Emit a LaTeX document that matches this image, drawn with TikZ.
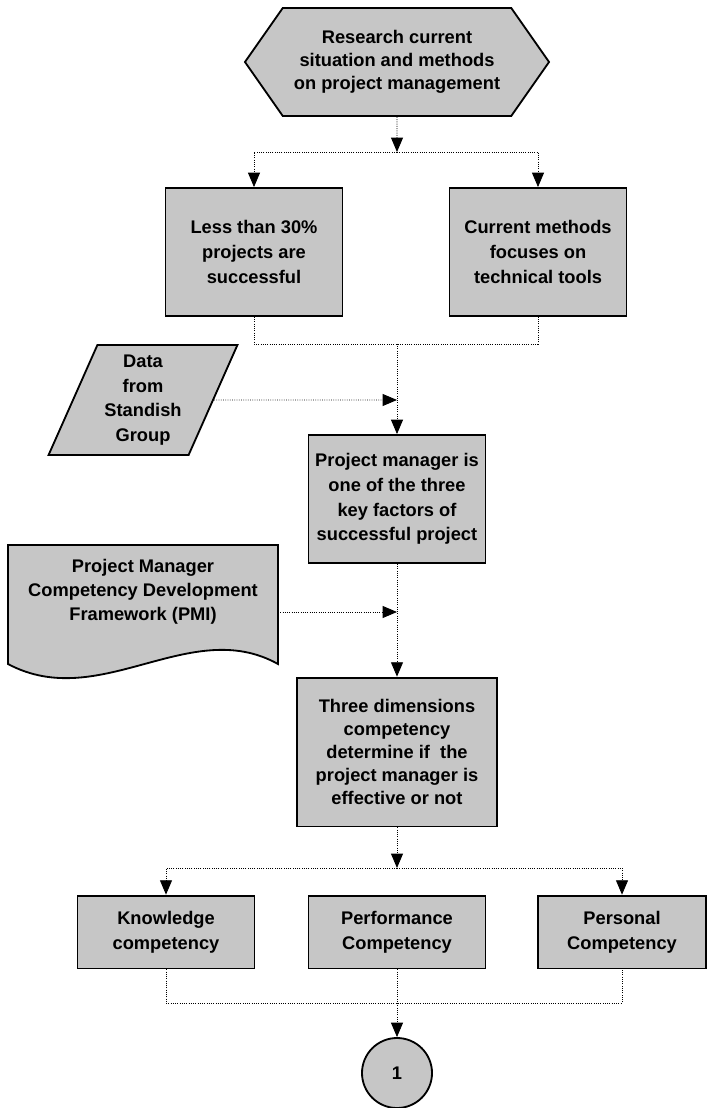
\documentclass[tikz,border=0pt]{standalone}
\usepackage{fontspec}
\setmainfont{Liberation Sans}
\usetikzlibrary{arrows.meta,shapes.symbols,shapes.geometric}
\definecolor{boxgray}{RGB}{198,198,198}

\begin{document}
\begin{tikzpicture}[x=0.025cm,y=-0.025cm,
  box/.style={draw,line width=1.3pt,fill=boxgray,align=center,inner sep=2pt,
    font=\bfseries\fontsize{13}{17.5}\selectfont},
  flow/.style={densely dotted,line width=0.6pt,-{Triangle[length=3.6mm,width=3mm]}},
  link/.style={densely dotted,line width=0.6pt}]
\useasboundingbox (0,0) rectangle (708,1108);

% Start
\node[box,signal,signal to=west and east,signal pointer angle=110,
  minimum width=7.6cm,minimum height=2.7cm,font=\bfseries\fontsize{13}{16.5}\selectfont] (research) at (397,62)
  {Research current\\situation and methods\\on project management};

% Findings
\node[box,minimum width=4.42cm,minimum height=3.2cm] (less) at (254,252)
  {Less than 30\%\\projects are\\successful};
\node[box,minimum width=4.42cm,minimum height=3.2cm] (methods) at (538,252)
  {Current methods\\focuses on\\technical tools};

% Inputs
\node[box,trapezium,trapezium left angle=63,trapezium right angle=117,
  trapezium stretches body,minimum width=4.72cm,minimum height=2.75cm] (standish) at (143,400)
  {Data\\from\\Standish\\Group};
\draw[line width=1.3pt,fill=boxgray] (8,545) -- (278,545) -- (278,664)
  .. controls (190,615) and (100,713) .. (8,664) -- cycle;
\node[align=center,font=\bfseries\fontsize{13}{17}\selectfont] (pmcd) at (143,592)
  {Project Manager\\Competency Development\\Framework (PMI)};
\coordinate (pmcdout) at (278,612);

% Conclusions
\node[box,minimum width=4.42cm,minimum height=3.2cm] (keyfactor) at (397,499)
  {Project manager is\\one of the three\\key factors of\\successful project};
\node[box,minimum width=5cm,minimum height=3.72cm,font=\bfseries\fontsize{13}{16.5}\selectfont] (threedim) at (397,752)
  {Three dimensions\\competency\\determine if\ \ the\\project manager is\\effective or not};

% Competencies
\node[box,minimum width=4.42cm,minimum height=1.82cm] (knowledge) at (166,932)
  {Knowledge\\competency};
\node[box,minimum width=4.42cm,minimum height=1.82cm] (performance) at (397,932)
  {Performance\\Competency};
\node[box,minimum width=4.2cm,minimum height=1.82cm] (personal) at (622,932)
  {Personal\\Competency};
\node[box,circle,minimum size=1.75cm] (next) at (397,1073) {1};

% Connectors
\coordinate (split1) at (397,152);
\coordinate (merge1) at (397,344);
\coordinate (datain) at (397,400);
\coordinate (pmcdin) at (397,612);
\coordinate (split2) at (397,868);
\coordinate (merge2) at (397,1003);

\draw[flow] (research) -- (split1);
\draw[flow] (split1) -| (less);
\draw[flow] (split1) -| (methods);
\draw[link] (less) |- (merge1) -| (methods);
\draw[flow] (merge1) -- (keyfactor);
\draw[flow] (standish) -- (datain);
\draw[flow] (pmcdout) -- (pmcdin);
\draw[flow] (keyfactor) -- (threedim);
\draw[flow] (threedim) -- (split2);
\draw[flow] (split2) -| (knowledge);
\draw[flow] (split2) -| (personal);
\draw[link] (knowledge) |- (merge2) -| (personal);
\draw[flow] (performance) -- (next);
\end{tikzpicture}
\end{document}
